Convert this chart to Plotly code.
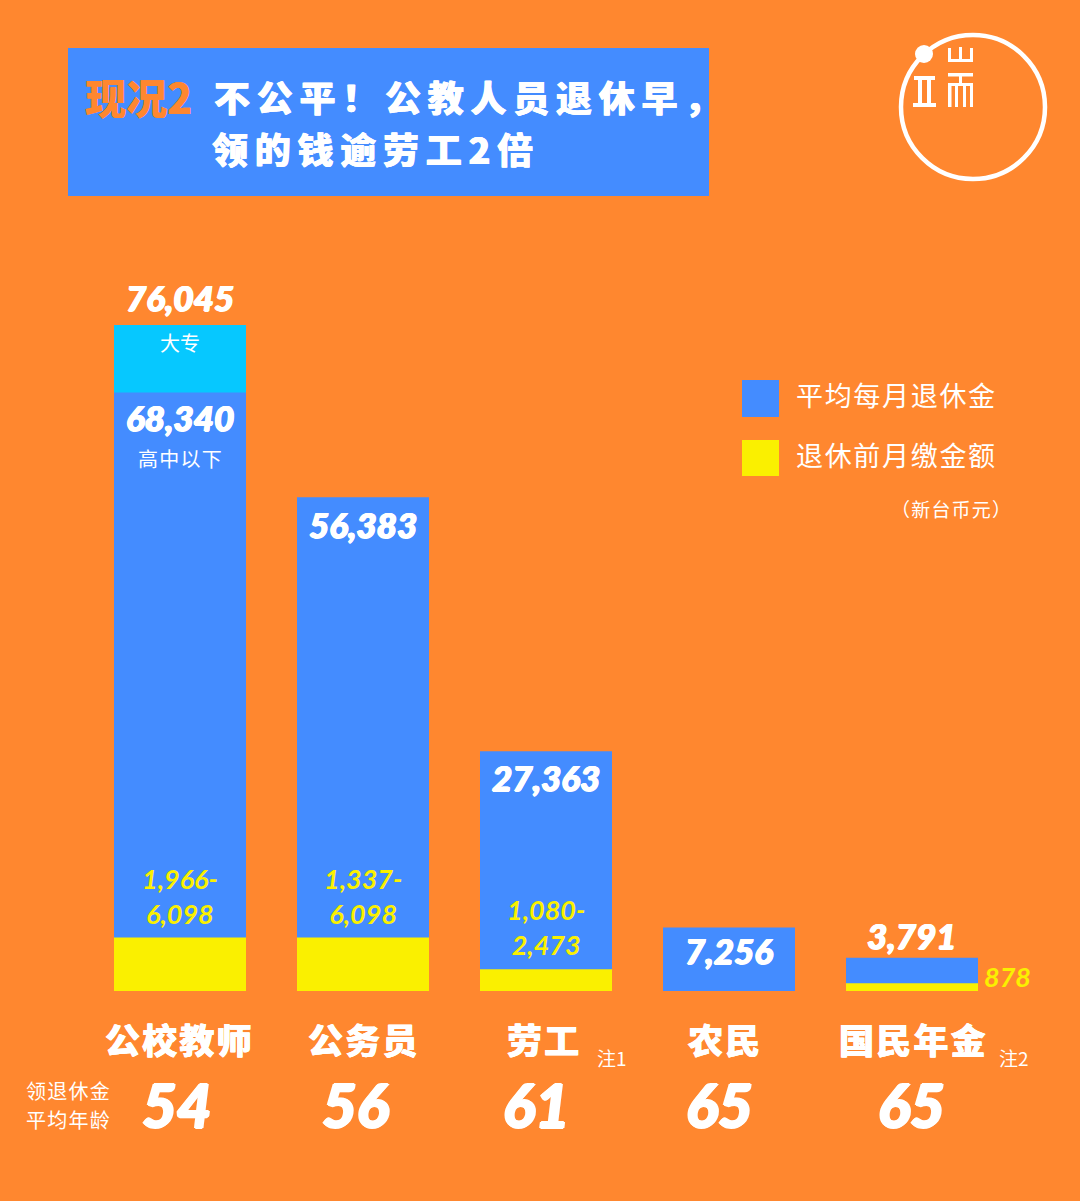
import plotly.graph_objects as go

categories = ["公校教师", "公务员", "劳工", "农民", "国民年金"]
pension = [68340, 56383, 27363, 7256, 3791]
pension_college = [76045, 0, 0, 0, 0]
contribution = [6098, 6098, 2473, 0, 878]
contribution_text = ["1,966-<br>6,098", "1,337-<br>6,098", "1,080-<br>2,473", "", "878"]
ages = [54, 56, 61, 65, 65]
notes = ["", "", "注1", "", "注2"]

W, H = 1080, 1201
ORANGE = "#FF872F"
BLUE = "#448CFF"
CYAN = "#06C8FF"
YELLOW = "#FAF000"
WHITE = "#FFFFFF"
CJK = "Noto Sans CJK SC"
NUM = "Lato"
# thickens the glyphs, the fonts here stop short of the reference's heavy weight
FAT = "0.4px 0 0 #FFFFFF, -0.4px 0 0 #FFFFFF"
FAT_NUM = "0.8px 0 0 #FFFFFF, -0.8px 0 0 #FFFFFF, 0 0.5px 0 #FFFFFF, 0 -0.5px 0 #FFFFFF"
FAT_AGE = "1.3px 0 0 #FFFFFF, -1.3px 0 0 #FFFFFF, 0 0.9px 0 #FFFFFF, 0 -0.9px 0 #FFFFFF"


def spaced(s, sep="\u200a"):
    return sep.join(s)


def px_x(x):
    return x / W


def px_y(y):
    return 1 - y / H


def label(x, y, text, size, color=WHITE, family=CJK, weight=400, style="normal", anchor="center", shadow="none"):
    return dict(x=px_x(x), y=px_y(y), xref="paper", yref="paper", text=text, showarrow=False,
                xanchor=anchor, yanchor="middle",
                font=dict(family=family, size=size, color=color, weight=weight, style=style, shadow=shadow))


def rect(x0, y0, x1, y1, color=WHITE):
    return dict(type="rect", xref="paper", yref="paper", x0=px_x(x0), x1=px_x(x1),
                y0=px_y(y0), y1=px_y(y1), fillcolor=color, line_width=0, layer="above")


def circle(cx, cy, r, fill=None, line=0):
    return dict(type="circle", xref="paper", yref="paper", x0=px_x(cx - r), x1=px_x(cx + r),
                y0=px_y(cy - r), y1=px_y(cy + r), fillcolor=fill or "rgba(0,0,0,0)",
                line=dict(color=WHITE, width=line), layer="above")


fig = go.Figure()
fig.add_trace(go.Bar(x=categories, y=pension_college, marker_color=CYAN, marker_line_width=0))
fig.add_trace(go.Bar(x=categories, y=pension, marker_color=BLUE, marker_line_width=0))
fig.add_trace(go.Bar(x=categories, y=contribution, marker_color=YELLOW, marker_line_width=0))

annotations = []

# value labels, placed relative to the bars
num_font = dict(family=NUM, size=35, color=WHITE, weight=900, style="italic", shadow=FAT_NUM)
shifts = [-25, -27, -26, -23, 23]
for i, cat in enumerate(categories):
    annotations.append(dict(x=cat, y=pension[i], text=f"{pension[i]:,}", showarrow=False,
                            yshift=shifts[i], font=num_font))
annotations.append(dict(x=categories[0], y=pension_college[0], text=f"{pension_college[0]:,}",
                        showarrow=False, yshift=28, font=num_font))
annotations.append(dict(x=categories[0], y=pension_college[0], text="大专", showarrow=False, yshift=-17,
                        font=dict(family=CJK, size=20, color=WHITE)))
annotations.append(dict(x=categories[0], y=pension[0], text=spaced("高中以下"), showarrow=False, yshift=-66,
                        font=dict(family=CJK, size=20, color=WHITE)))

# contribution ranges
range_font = dict(family="Lato", size=27, color=YELLOW, weight=700, style="italic")
for i in range(3):
    annotations.append(dict(x=categories[i], y=contribution[i], text=contribution_text[i], showarrow=False,
                            yshift=42, font=range_font, align="center"))
annotations.append(dict(x=categories[4], y=contribution[4], text=contribution_text[4], showarrow=False,
                        xshift=95, yshift=7, font=dict(family="Lato", size=27, color=YELLOW, weight=700, style="italic")))

# category names, ages and notes
name_x = [178, 362, 543, 724, 912]
age_x = [177, 355, 536, 719, 911]
note_x = [None, None, 612, None, 1014]
for i, cat in enumerate(categories):
    annotations.append(label(name_x[i], 1038, spaced(cat), 35, weight=900, shadow=FAT))
    annotations.append(label(age_x[i], 1105, str(ages[i]), 60, family=NUM, weight=900, style="italic", shadow=FAT_AGE))
    if notes[i]:
        annotations.append(label(note_x[i], 1057, notes[i], 19))
annotations.append(label(68, 1090, spaced("领退休金"), 20))
annotations.append(label(68, 1119, spaced("平均年龄"), 20))

# title
TITLE_GAP = "\u200a\u200a\u200a"
annotations.append(label(83, 96, "现况2", 41, color=ORANGE, weight=900, anchor="left", shadow="0.6px 0 0 " + ORANGE))
annotations.append(label(212, 96, spaced("不公平！公教人员退休早，", TITLE_GAP), 36, weight=900, anchor="left", shadow=FAT))
annotations.append(label(210, 148, spaced("领的钱逾劳工2倍", TITLE_GAP), 36, weight=900, anchor="left", shadow=FAT))

# legend
annotations.append(label(794, 395, spaced("平均每月退休金"), 27, anchor="left"))
annotations.append(label(794, 454, spaced("退休前月缴金额"), 27, anchor="left"))
annotations.append(label(1013, 508, spaced("（新台币元）"), 19, anchor="right"))

shapes = [
    rect(68, 48, 709, 196, BLUE),
    rect(742, 380, 779, 417, BLUE),
    rect(742, 440, 779, 476, YELLOW),
    # logo
    circle(973, 107, 72, line=4.5),
    circle(924, 54, 9, fill=WHITE, line=0),
    rect(948, 59, 973, 62), rect(948, 48, 951, 62), rect(959, 47, 962, 62), rect(970, 48, 973, 62),
    rect(948, 73, 973, 76.5), rect(948, 83, 973, 86), rect(948, 83, 951.5, 107), rect(970, 83, 973, 107),
    rect(955, 83, 958, 107), rect(963, 83, 966, 107), rect(959, 73, 962, 86),
    rect(914, 76, 935, 80), rect(913, 103, 936, 107), rect(918, 76, 922, 105), rect(927, 76, 931, 105),
]

fig.update_layout(
    width=W, height=H,
    margin=dict(l=0, r=0, t=0, b=0),
    barmode="overlay",
    bargap=0.2787,
    paper_bgcolor=ORANGE,
    plot_bgcolor=ORANGE,
    showlegend=False,
    annotations=annotations,
    shapes=shapes,
    xaxis=dict(visible=False, type="category", range=[-0.9836, 4.918], categoryorder="array", categoryarray=categories),
    yaxis=dict(visible=False, range=[-23978, 113156]),
)

# page margin would leave a white frame round the figure
fig.write_html("out.html", config={"displayModeBar": False}, post_script="document.body.style.margin='0';")
